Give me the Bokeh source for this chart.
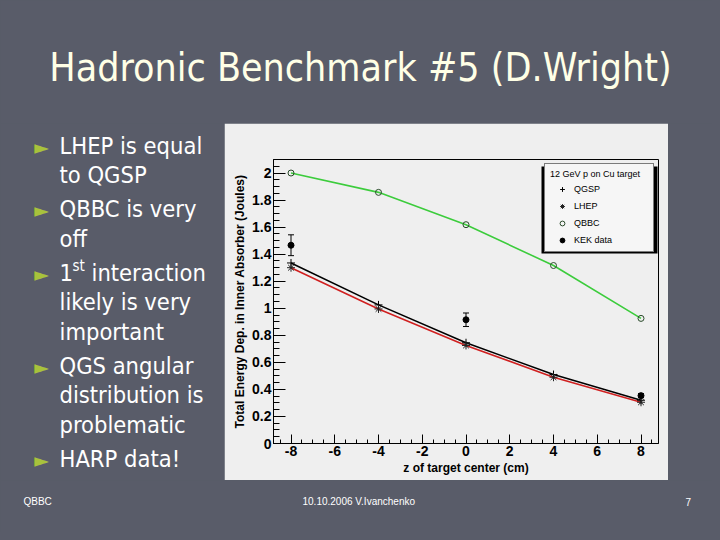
from bokeh.plotting import figure
from bokeh.models import (Range1d, SingleIntervalTicker, Legend, LegendItem, Whisker, TeeHead,
                          ColumnDataSource, BoxAnnotation, GlobalInlineStyleSheet, CustomJSTickFormatter)
from bokeh.layouts import column, row
from bokeh.core.properties import value
from bokeh.embed import file_html
from bokeh.resources import INLINE

# ---------------- data ----------------
z = [-8, -4, 0, 4, 8]
qgsp = [1.335, 1.025, 0.745, 0.510, 0.320]
lhep = [1.300, 0.995, 0.725, 0.490, 0.305]
qbbc = [2.000, 1.857, 1.618, 1.316, 0.925]
kek_z = [-8, 0, 8]
kek = [1.466, 0.915, 0.354]
kek_err = [0.077, 0.050, 0.015]

title_text = "Hadronic Benchmark #5 (D.Wright)"
bullets = [["LHEP is equal", "to QGSP"],
           ["QBBC is very", "off"],
           ["1|st|interaction", "likely is very", "important"],
           ["QGS angular", "distribution is", "problematic"],
           ["HARP data!"]]
footer_left = "QBBC"
footer_mid = "10.10.2006  V.Ivanchenko"
footer_right = "7"
legend_title = "12 GeV p on Cu target"

# ---------------- style ----------------
SLIDE = "#595C69"
PANEL = "#EFEFEF"
TFONT = "DejaVu Sans Condensed"


def slide_fig(w, h, x0, x1, y0, y1):
    f = figure(width=w, height=h, x_range=Range1d(x0, x1), y_range=Range1d(y1, y0),
               x_axis_type=None, y_axis_type=None, output_backend="svg",
               toolbar_location=None, min_border=0)
    f.outline_line_color = None
    f.background_fill_color = SLIDE
    f.border_fill_color = SLIDE
    return f


# title
top = slide_fig(712, 123, 0, 712, 0, 123)
top.text(x=[360], y=[67], text=[title_text], text_font=value(TFONT), text_font_size="39px",
         text_color="#FFFFE6", text_align="center", text_baseline="middle")

# bullets
left = slide_fig(224, 357, 0, 224, 123, 480)
y = 145.0
bx, by, tx, ty, tt = [], [], [], [], []
for bi, lines in enumerate(bullets):
    if bi > 0:
        y += 34.0
    for li, line in enumerate(lines):
        if li > 0:
            y += 29.5
        if li == 0:
            bx.append(41); by.append(y + 1)
        if "|" in line:
            a, s, b = line.split("|")
            tx.append(59); ty.append(y); tt.append(a)
            left.text(x=[72], y=[y - 7], text=[s], text_font=value(TFONT), text_font_size="15px",
                      text_color="white", text_align="left", text_baseline="middle")
            tx.append(91); ty.append(y); tt.append(b)
        else:
            tx.append(59); ty.append(y); tt.append(line)
left.text(x=bx, y=by, text=["\u25BA"] * len(bx), text_font=value("DejaVu Sans"), text_font_size="19px",
          text_color="#A8C23C", text_align="center", text_baseline="middle")
left.text(x=tx, y=ty, text=tt, text_font=value(TFONT), text_font_size="23.5px",
          text_color="white", text_align="left", text_baseline="middle")

right = slide_fig(44, 357, 668, 712, 123, 480)

# footer
bottom = slide_fig(712, 52, 0, 712, 480, 532)
bottom.text(x=[23, 302, 685], y=[501, 501, 501], text=[footer_left, footer_mid, footer_right],
            text_font=value("Liberation Sans"), text_font_size="10px", text_color="white",
            text_align="left", text_baseline="middle")

# ---------------- chart ----------------
p = figure(width=444, height=357, x_range=Range1d(-8.8, 8.8), y_range=Range1d(0, 2.1),
           output_backend="svg", toolbar_location=None,
           min_border_left=49, min_border_right=10, min_border_top=36, min_border_bottom=37)
p.background_fill_color = PANEL
p.border_fill_color = PANEL
p.outline_line_color = "black"
p.grid.visible = False
p.xaxis.ticker = SingleIntervalTicker(interval=2, num_minor_ticks=4)
p.yaxis.ticker = SingleIntervalTicker(interval=0.2, num_minor_ticks=4)
p.xaxis.formatter = CustomJSTickFormatter(code="return String(Math.round(tick));")
p.yaxis.formatter = CustomJSTickFormatter(code="return String(Math.round(tick*10)/10);")
for ax in (p.xaxis[0], p.yaxis[0]):
    ax.axis_line_color = "black"
    ax.major_tick_line_color = "black"
    ax.minor_tick_line_color = "black"
    ax.major_tick_out = 0
    ax.minor_tick_out = 0
    ax.major_label_text_font = "Liberation Sans"
    ax.major_label_text_font_style = "bold"
    ax.major_label_text_font_size = "14px"
    ax.major_label_text_color = "black"
    ax.axis_label_text_font = "Liberation Sans"
    ax.axis_label_text_font_style = "bold"
    ax.axis_label_text_font_size = "12px"
    ax.axis_label_text_color = "black"
    ax.major_label_standoff = 2
    ax.axis_label_standoff = 2
p.xaxis.major_tick_in = 9
p.xaxis.minor_tick_in = 4
p.yaxis.major_tick_in = 12
p.yaxis.minor_tick_in = 6
p.xaxis.axis_label = "z of target center (cm)"
p.yaxis.axis_label = "Total Energy Dep. in Inner Absorber (Joules)"

p.line(z, qbbc, line_color="#3CCC3C", line_width=1.6)
p.line(z, lhep, line_color="#D02020", line_width=1.6)
p.line(z, qgsp, line_color="black", line_width=1.6)

r_qgsp = p.scatter(z, qgsp, marker="cross", size=8, line_color="black", line_width=1)
r_lhep = p.scatter(z, lhep, marker="asterisk", size=8, line_color="#222222", line_width=1)
r_qbbc = p.scatter(z, qbbc, marker="circle", size=6, fill_color=None, line_color="#2A4A2A", line_width=1)

src = ColumnDataSource(dict(z=kek_z, y=kek,
                            lo=[v - e for v, e in zip(kek, kek_err)],
                            up=[v + e for v, e in zip(kek, kek_err)]))
p.add_layout(Whisker(base="z", lower="lo", upper="up", source=src, line_color="black",
                     lower_head=TeeHead(size=6, line_color="black"),
                     upper_head=TeeHead(size=6, line_color="black")))
r_kek = p.scatter("z", "y", source=src, marker="circle", size=6, fill_color="black", line_color="black")

# legend shadow
p.add_layout(BoxAnnotation(left=317, right=433, top=43, bottom=130,
                           left_units="canvas", right_units="canvas",
                           top_units="canvas", bottom_units="canvas",
                           fill_color="black", fill_alpha=1, line_color=None))

legend = Legend(items=[LegendItem(label="QGSP", renderers=[r_qgsp]),
                       LegendItem(label="LHEP", renderers=[r_lhep]),
                       LegendItem(label="QBBC", renderers=[r_qbbc]),
                       LegendItem(label="KEK data", renderers=[r_kek])],
                location="top_right", margin=4, padding=5,
                glyph_width=24, glyph_height=12, label_height=12, label_width=74,
                label_standoff=0, spacing=5,
                title=legend_title, title_standoff=4,
                title_text_font="Liberation Sans", title_text_font_size="9px",
                title_text_font_style="normal", title_text_color="black",
                label_text_font="Liberation Sans", label_text_font_size="9px",
                label_text_color="black",
                background_fill_color="#F6F6F6", background_fill_alpha=1,
                border_line_color="black", border_line_width=1)
p.add_layout(legend)

layout = column(top, row(column(left), column(p), column(right), spacing=0), bottom, spacing=0)
layout.stylesheets = [GlobalInlineStyleSheet(css="body { background-color: #595C69; }")]

open("out.html", "w").write(file_html(layout, INLINE))
